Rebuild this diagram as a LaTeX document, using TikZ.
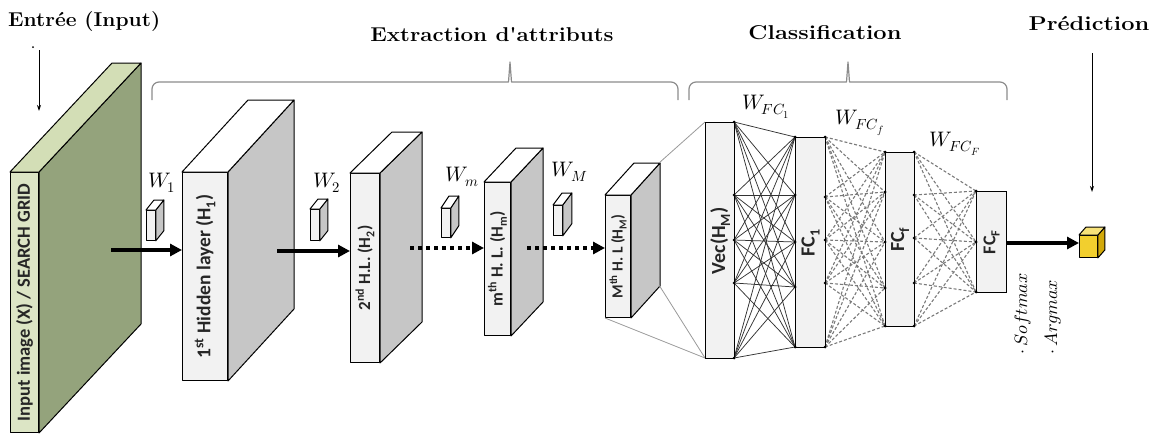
\documentclass[tikz,border=0pt]{standalone}
\usepackage{fontspec}
\usepackage{unicode-math}
\setmathfont{Latin Modern Math}
\newfontfamily\layerfont{Carlito}
\usetikzlibrary{arrows.meta,calc}
\definecolor{inpfront}{HTML}{DCE5C5}
\definecolor{inptop}{HTML}{D3DEB6}
\definecolor{inpside}{HTML}{94A37C}
\definecolor{hlfront}{HTML}{F2F2F2}
\definecolor{hlside}{HTML}{C6C6C6}
\definecolor{bracegray}{HTML}{8C8C8C}
\definecolor{meshgray}{HTML}{7A7A7A}
\definecolor{cubefront}{HTML}{F2CF2E}
\definecolor{cubetop}{HTML}{F7E27A}
\definecolor{cubeside}{HTML}{D2A90A}
\newcommand\slabfaces[5]{%
  \draw[face,fill=#4] (#1.north east) -- ++(#2,#3) -- ($(#1.south east)+(#2,#3)$) -- (#1.south east) -- cycle;
  \draw[face,fill=#5] (#1.north west) -- ++(#2,#3) -- ($(#1.north east)+(#2,#3)$) -- (#1.north east) -- cycle;}
\begin{document}
\begin{tikzpicture}[x=1pt,y=-1pt,
  face/.style={draw=black,line width=1pt,line join=round},
  frontface/.style={face,inner sep=0pt,anchor=north west},
  layertext/.style={rotate=90,inner sep=0pt,font=\layerfont\bfseries,text=black!85},
  title/.style={inner sep=0pt,font=\bfseries\fontsize{20}{22}\selectfont},
  wlabel/.style={inner sep=0pt,font=\fontsize{21}{24}\selectfont},
  thickarrow/.style={line width=3.5pt,-{Triangle[length=12pt,width=12pt]}},
  dotarrow/.style={line width=3.5pt,dash pattern=on 4pt off 4pt,-{Triangle[length=12pt,width=12pt]}},
  thinarrow/.style={line width=1pt,-{Stealth[length=6pt,width=4pt]}},
  bracestyle/.style={draw=bracegray,line width=1.2pt,line join=round},
  fcbox/.style={draw=black,line width=1.2pt,fill=hlfront,inner sep=0pt,anchor=north west},
  meshsolid/.style={draw=black!80,line width=0.75pt},
  meshdash/.style={draw=meshgray,line width=1.1pt,dash pattern=on 3pt off 2pt},
  fanline/.style={draw=black!40,line width=0.8pt},
  nodedot/.style={fill=black}
]
\useasboundingbox (0,0) rectangle (1154,434);

% titles
\node[title,anchor=west] (tin) at (8,22) {\scalebox{1.05}[1]{Entrée (Input)}};
\node[title] (tex) at (492,35) {\scalebox{1.12}[1]{Extraction d\textquotesingle attributs}};
\node[title] (tcl) at (825,33) {\scalebox{1.18}[1]{Classification}};
\node[title] (tpr) at (1089,24) {\scalebox{1.18}[1]{Prédiction}};
\fill (33,47) circle (1pt);
\coordinate (ins) at (39,50);
\coordinate (ine) at (39,111);
\draw[thinarrow] (ins) -- (ine);
\coordinate (prs) at (1092,53);
\coordinate (pre) at (1092,192);
\draw[thinarrow] (prs) -- (pre);

% braces
\draw[bracestyle] (152,100) -- (152,89) arc[start angle=180,end angle=270,radius=7] -- (508.5,82) -- (510,62) -- (511.5,82) -- (671,82) arc[start angle=270,end angle=360,radius=7] -- (678,100);
\draw[bracestyle] (689,100) -- (689,89) arc[start angle=180,end angle=270,radius=7] -- (846.5,82) -- (848,62) -- (849.5,82) -- (1000,82) arc[start angle=270,end angle=360,radius=7] -- (1007,100);

% input slab
\node[frontface,fill=inpfront,minimum width=28pt,minimum height=260pt] (inp) at (10,172) {};
\slabfaces{inp}{102}{-109}{inpside}{inptop}
\node[layertext,font=\layerfont\bfseries\fontsize{18.5}{20}\selectfont] at (inp.center) {Input image (X) / SEARCH GRID};

% hidden layer 1
\node[frontface,fill=hlfront,minimum width=45pt,minimum height=208pt] (l1) at (182,172) {};
\slabfaces{l1}{66}{-72}{hlside}{white}
\node[layertext,font=\layerfont\bfseries\fontsize{19.5}{20}\selectfont] at (l1.center) {1\textsuperscript{st} Hidden layer (H\textsubscript{1})};

% hidden layer 2
\node[frontface,fill=hlfront,minimum width=29pt,minimum height=189pt] (l2) at (350,173) {};
\slabfaces{l2}{42}{-41}{hlside}{white}
\node[layertext,font=\layerfont\bfseries\fontsize{17}{20}\selectfont] at (l2.center) {2\textsuperscript{nd} H.L. (H\textsubscript{2})};

% hidden layer m
\node[frontface,fill=hlfront,minimum width=26pt,minimum height=153pt] (lm) at (484,182) {};
\slabfaces{lm}{32}{-34}{hlside}{white}
\node[layertext,font=\layerfont\bfseries\fontsize{17}{20}\selectfont] at (lm.center) {m\textsuperscript{th} H. L. (H\textsubscript{m})};

% hidden layer M
\node[frontface,fill=hlfront,minimum width=25pt,minimum height=122pt] (lM) at (605,195) {};
\slabfaces{lM}{29}{-32}{hlside}{white}
\node[layertext,font=\layerfont\bfseries\fontsize{15.5}{18}\selectfont] at (lM.center) {M\textsuperscript{th} H. L (H\textsubscript{M})};

% kernels
\node[frontface,fill=hlfront,minimum width=9pt,minimum height=30pt,line width=0.8pt] (k1) at (146,210) {};
\slabfaces{k1}{8}{-10}{hlside}{white}
\node[frontface,fill=hlfront,minimum width=9pt,minimum height=31pt,line width=0.8pt] (k2) at (310,209) {};
\slabfaces{k2}{8}{-10}{hlside}{white}
\node[frontface,fill=hlfront,minimum width=9pt,minimum height=29pt,line width=0.8pt] (km) at (441,208) {};
\slabfaces{km}{8}{-12}{hlside}{white}
\node[frontface,fill=hlfront,minimum width=9pt,minimum height=30pt,line width=0.8pt] (kM) at (553,205) {};
\slabfaces{kM}{9}{-12}{hlside}{white}

\node[wlabel] (w1) at (162,183) {$W_1$};
\node[wlabel] (w2) at (327,183) {$W_2$};
\node[wlabel] (wm) at (462,177) {$W_m$};
\node[wlabel] (wM) at (570,172) {$W_M$};

% arrows between layers
\coordinate (a1) at (111,250);
\draw[thickarrow] (a1) -- (a1 -| l1.west);
\coordinate (a2) at (277,251);
\draw[thickarrow] (a2) -- (a2 -| l2.west);
\coordinate (a3) at (410,248);
\draw[dotarrow] (a3) -- (a3 -| lm.west);
\coordinate (a4) at (527,248);
\draw[dotarrow] (a4) -- (a4 -| lM.west);

% fan from last hidden layer to vector
\coordinate (vtl) at (705,122);
\coordinate (vbl) at (705,358);
\coordinate (mtop) at (659,163);
\coordinate (mbot) at (659,285);
\draw[fanline] (mtop) -- (vtl);
\draw[fanline] (lM.south west) -- (vbl);
\draw[fanline] (mbot) -- (vbl);

\foreach \y [count=\i] in {122,195,240,283,358} \coordinate (vr\i) at (734,\y);
\foreach \y [count=\i] in {137,195,242,287,347} \coordinate (fl\i) at (795,\y);
\foreach \y [count=\i] in {137,197,240,283,347} \coordinate (fr\i) at (825,\y);
\foreach \y [count=\i] in {152,192,242,288,326} \coordinate (gl\i) at (885,\y);
\foreach \y [count=\i] in {152,195,238,283,326} \coordinate (gr\i) at (914,\y);
\foreach \y [count=\i] in {191,242,292} \coordinate (hl\i) at (976,\y);

\foreach \i in {1,...,5}{\foreach \j in {1,...,5}{\draw[meshsolid] (vr\i) -- (fl\j);}}
\foreach \i in {1,...,5}{\foreach \j in {1,...,5}{\draw[meshdash] (fr\i) -- (gl\j);}}
\foreach \i in {1,...,5}{\foreach \j in {1,...,3}{\draw[meshdash] (gr\i) -- (hl\j);}}

\node[fcbox,minimum width=29pt,minimum height=236pt] (vec) at (705,122) {};
\node[fcbox,minimum width=30pt,minimum height=210pt] (fc1) at (795,137) {};
\node[fcbox,minimum width=29pt,minimum height=174pt] (fcf) at (885,152) {};
\node[fcbox,minimum width=30pt,minimum height=101pt] (fcF) at (976,191) {};
\node[layertext,font=\layerfont\bfseries\fontsize{20}{22}\selectfont] at (vec.center) {Vec(H\textsubscript{M})};
\node[layertext,font=\layerfont\bfseries\fontsize{20}{22}\selectfont] at (fc1.center) {FC\textsubscript{1}};
\node[layertext,font=\layerfont\bfseries\fontsize{20}{22}\selectfont] at (fcf.center) {FC\textsubscript{f}};
\node[layertext,font=\layerfont\bfseries\fontsize{18}{22}\selectfont] at (fcF.center) {FC\textsubscript{F}};

\foreach \p in {vr1,vr2,vr3,vr4,vr5,fl1,fl2,fl3,fl4,fl5,fr1,fr2,fr3,fr4,fr5,gl1,gl2,gl3,gl4,gl5,gr1,gr2,gr3,gr4,gr5,hl1,hl2,hl3}{\fill[nodedot] (\p) circle (1.5pt);}

\node[wlabel] (wfc1) at (766,107) {$W_{FC_1}$};
\node[wlabel] (wfcf) at (860,123) {$W_{FC_f}$};
\node[wlabel] (wfcF) at (955,144) {$W_{FC_F}$};

% output
\node[frontface,fill=cubefront,minimum width=18pt,minimum height=22pt,line width=0.9pt] (cube) at (1079,235) {};
\slabfaces{cube}{7}{-8}{cubeside}{cubetop}
\draw[thickarrow] (fcF.east |- 0,243) -- (1079,243);
\node[rotate=90,inner sep=0pt,font=\fontsize{18}{20}\selectfont] (smx) at (1023,314) {$\cdot\,Softmax$};
\node[rotate=90,inner sep=0pt,font=\fontsize{18}{20}\selectfont] (amx) at (1053,317) {$\cdot\,Argmax$};
\end{tikzpicture}
\end{document}
